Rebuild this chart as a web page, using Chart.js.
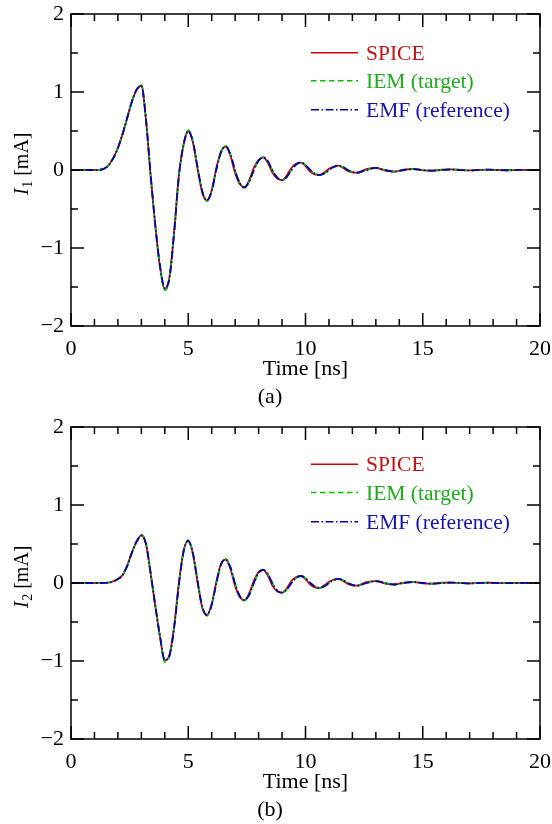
<!DOCTYPE html>
<html>
<head>
<meta charset="utf-8">
<script src="https://cdn.jsdelivr.net/npm/chart.js@4.4.1/dist/chart.umd.min.js"></script>
<style>
html,body{margin:0;padding:0;background:#fff;}
canvas{display:block;}
</style>
</head>
<body>
<canvas id="c1" width="552" height="412"></canvas>
<canvas id="c2" width="552" height="412"></canvas>
<script>
// ---------- data ----------
const time = [0,0.2,0.4,0.6,0.8,1.0,1.2,1.4,1.6,1.8,2.0,2.2,2.4,2.6,2.8,3.0,3.2,3.4,3.6,3.8,
  4.0,4.2,4.4,4.6,4.8,5.0,5.2,5.4,5.6,5.8,6.0,6.2,6.4,6.6,6.8,7.0,7.2,7.4,7.6,7.8,
  8.0,8.2,8.4,8.6,8.8,9.0,9.2,9.4,9.6,9.8,10.0,10.2,10.4,10.6,10.8,11.0,11.2,11.4,11.6,11.8,
  12.0,12.2,12.6,13.0,13.4,13.8,14.2,14.6,15.0,15.4,15.8,16.2,16.6,17.0,17.4,17.8,18.2,18.6,19.0,19.4,19.8,20.0];

// panel (a): I1 [mA]
const i1Spice = [0,0,0,0,0,0,0.002,0.016,0.062,0.152,0.283,0.463,0.672,0.882,1.03,1.08,0.63,-0.09,-0.73,-1.25,
  -1.52,-1.37,-0.78,-0.07,0.33,0.50,0.35,0.01,-0.29,-0.39,-0.26,0.03,0.24,0.30,0.18,-0.04,-0.18,-0.22,-0.13,0.03,
  0.13,0.16,0.09,-0.04,-0.11,-0.13,-0.07,0.025,0.08,0.094,0.05,-0.02,-0.055,-0.064,-0.03,0.015,0.045,0.055,0.028,-0.012,
  -0.03,-0.035,0.01,0.026,-0.008,-0.02,0.006,0.013,-0.004,-0.009,0.003,0.007,0,-0.005,0,0.004,0,-0.003,0,0.002,0,0];
const i1Iem = [0,0,0,0,0,0,0.002,0.015,0.06,0.15,0.28,0.46,0.67,0.88,1.035,1.09,0.65,-0.08,-0.73,-1.26,
  -1.54,-1.39,-0.80,-0.08,0.32,0.51,0.37,0.03,-0.28,-0.40,-0.27,0.01,0.23,0.31,0.20,-0.01,-0.17,-0.23,-0.15,0.0,
  0.12,0.165,0.11,-0.01,-0.10,-0.135,-0.09,0.0,0.07,0.096,0.065,0.0,-0.045,-0.066,-0.045,0.0,0.038,0.056,0.038,0.0,
  -0.025,-0.036,0.0,0.027,0.0,-0.02,0.0,0.013,0.0,-0.009,0.0,0.007,0,-0.005,0,0.004,0,-0.003,0,0.002,0,0];
const i1Emf = [0,0,0,0,0,0,0.002,0.015,0.06,0.15,0.28,0.46,0.67,0.88,1.03,1.08,0.64,-0.08,-0.72,-1.24,
  -1.52,-1.38,-0.80,-0.08,0.32,0.50,0.36,0.03,-0.28,-0.39,-0.27,0.01,0.23,0.30,0.20,-0.01,-0.17,-0.22,-0.15,0.0,
  0.12,0.16,0.11,-0.01,-0.10,-0.13,-0.09,0.0,0.07,0.094,0.065,0.0,-0.045,-0.064,-0.045,0.0,0.038,0.055,0.038,0.0,
  -0.025,-0.035,0.0,0.026,0.0,-0.02,0.0,0.013,0.0,-0.009,0.0,0.007,0,-0.005,0,0.004,0,-0.003,0,0.002,0,0];

// panel (b): I2 [mA]
const i2Spice = [0,0,0,0,0,0,0,0.001,0.005,0.021,0.052,0.103,0.225,0.395,0.535,0.61,0.49,0.11,-0.31,-0.70,
  -0.99,-0.92,-0.55,0.0,0.41,0.54,0.37,0.0,-0.32,-0.41,-0.27,0.02,0.25,0.30,0.18,-0.04,-0.18,-0.22,-0.13,0.03,
  0.14,0.167,0.09,-0.04,-0.11,-0.124,-0.07,0.025,0.075,0.09,0.05,-0.02,-0.055,-0.062,-0.03,0.015,0.043,0.052,0.027,-0.012,
  -0.03,-0.034,0.01,0.025,-0.008,-0.019,0.006,0.013,-0.004,-0.009,0.003,0.006,0,-0.004,0,0.003,0,-0.002,0,0.001,0,0];
const i2Iem = [0,0,0,0,0,0,0,0.001,0.005,0.02,0.05,0.10,0.22,0.39,0.53,0.62,0.51,0.12,-0.30,-0.70,
  -1.01,-0.94,-0.57,-0.02,0.40,0.55,0.38,0.02,-0.31,-0.42,-0.28,0.0,0.24,0.31,0.20,-0.01,-0.17,-0.225,-0.15,0.0,
  0.13,0.17,0.11,-0.01,-0.10,-0.127,-0.085,0.0,0.065,0.092,0.062,0.0,-0.045,-0.064,-0.043,0.0,0.036,0.053,0.036,0.0,
  -0.024,-0.035,0.0,0.025,0.0,-0.019,0.0,0.013,0.0,-0.009,0.0,0.006,0,-0.004,0,0.003,0,-0.002,0,0.001,0,0];
const i2Emf = [0,0,0,0,0,0,0,0.001,0.005,0.02,0.05,0.10,0.22,0.39,0.53,0.61,0.50,0.12,-0.30,-0.69,
  -0.99,-0.93,-0.57,-0.02,0.40,0.54,0.38,0.02,-0.31,-0.41,-0.28,0.0,0.24,0.30,0.20,-0.01,-0.17,-0.22,-0.15,0.0,
  0.13,0.167,0.11,-0.01,-0.10,-0.124,-0.085,0.0,0.065,0.09,0.062,0.0,-0.045,-0.062,-0.043,0.0,0.036,0.052,0.036,0.0,
  -0.024,-0.034,0.0,0.025,0.0,-0.019,0.0,0.013,0.0,-0.009,0.0,0.006,0,-0.004,0,0.003,0,-0.002,0,0.001,0,0];

const seriesNames = ['SPICE', 'IEM (target)', 'EMF (reference)'];
const xTicks = [0, 5, 10, 15, 20];
const yTicks = [-2, -1, 0, 1, 2];

// ---------- styles ----------
const FONT = '"Liberation Serif", "DejaVu Serif", "Times New Roman", serif';
const lineColors = ['rgb(210,0,0)', 'rgb(0,190,0)', 'rgb(0,0,170)'];
const textColors = ['rgb(190,20,20)', 'rgb(30,170,30)', 'rgb(20,20,175)'];
const dashes = [[], [5.5, 3.5], [8, 2.5, 1.5, 2.5]];

Chart.defaults.font.family = FONT;
Chart.defaults.color = '#000';

function pts(ys) { return time.map((t, i) => ({x: t, y: ys[i]})); }

const framePlugin = {
  id: 'frame',
  afterDatasetsDraw(chart, args, opts) {
    const ctx = chart.ctx;
    const {left, right, top, bottom} = chart.chartArea;
    const xs = chart.scales.x, ys = chart.scales.y;
    ctx.save();
    ctx.strokeStyle = '#000';
    ctx.lineWidth = 1.5;
    ctx.strokeRect(left, top, right - left, bottom - top);
    ctx.beginPath();
    for (let v = 0; v <= 20; v++) {
      const px = xs.getPixelForValue(v);
      const L = (v % 5 === 0) ? 13 : 7;
      ctx.moveTo(px, bottom); ctx.lineTo(px, bottom - L);
      ctx.moveTo(px, top); ctx.lineTo(px, top + L);
    }
    for (let k = -4; k <= 4; k++) {
      const py = ys.getPixelForValue(k / 2);
      const L = (k % 2 === 0) ? 13 : 7;
      ctx.moveTo(left, py); ctx.lineTo(left + L, py);
      ctx.moveTo(right, py); ctx.lineTo(right - L, py);
    }
    ctx.stroke();

    // legend
    const lineY = opts.legendY;
    for (let i = 0; i < 3; i++) {
      ctx.beginPath();
      ctx.strokeStyle = lineColors[i];
      ctx.lineWidth = 1.5;
      ctx.setLineDash(dashes[i]);
      ctx.moveTo(311, lineY[i]);
      ctx.lineTo(358, lineY[i]);
      ctx.stroke();
      ctx.setLineDash([]);
      ctx.fillStyle = textColors[i];
      ctx.font = '21.5px ' + FONT;
      ctx.textAlign = 'left';
      ctx.textBaseline = 'alphabetic';
      ctx.fillText(seriesNames[i], 366, lineY[i] + 7);
    }

    // y axis title: I_n [mA]
    ctx.fillStyle = '#000';
    ctx.translate(28, opts.titleY);
    ctx.rotate(-Math.PI / 2);
    ctx.textAlign = 'left';
    ctx.textBaseline = 'alphabetic';
    ctx.font = 'italic 20px ' + FONT;
    ctx.fillText('I', 0, 0);
    let w = ctx.measureText('I').width + 0.5;
    ctx.font = '14px ' + FONT;
    ctx.fillText(opts.sub, w, 3.5);
    w += ctx.measureText(opts.sub).width;
    ctx.font = '20px ' + FONT;
    ctx.fillText(' [mA]', w, 0);
    ctx.restore();
  }
};

function makeChart(id, data, caption, sub, padTop, padBottom, legendY, titleY) {
  const totalH = 412;
  const capH = 22 * 1.2;
  const xH = totalH - padTop - 312 - capH - padBottom;
  return new Chart(document.getElementById(id), {
    type: 'line',
    data: {
      datasets: [0, 1, 2].map(i => ({
        label: seriesNames[i],
        data: pts(data[i]),
        borderColor: lineColors[i],
        borderWidth: 1.8,
        borderDash: dashes[i],
        pointRadius: 0,
        fill: false,
        cubicInterpolationMode: 'monotone',
        order: 3 - i
      }))
    },
    options: {
      responsive: false,
      animation: false,
      events: [],
      layout: { padding: { top: padTop, right: 12, left: 0, bottom: padBottom } },
      plugins: {
        legend: { display: false },
        tooltip: { enabled: false },
        title: {
          display: true,
          position: 'bottom',
          text: caption,
          color: '#000',
          font: { size: 22, weight: 'normal', family: FONT, lineHeight: 1.2 },
          padding: { top: 0, bottom: 0 }
        },
        frame: { legendY: legendY, titleY: titleY, sub: sub }
      },
      scales: {
        x: {
          type: 'linear',
          min: 0, max: 20,
          afterBuildTicks(s) { s.ticks = xTicks.map(v => ({value: v})); },
          afterFit(s) { s.height = xH; s.paddingLeft = 0; s.paddingRight = 0; },
          grid: { display: false, drawTicks: false },
          border: { display: false },
          ticks: { padding: 10, font: { size: 22, family: FONT }, color: '#000', maxRotation: 0 },
          title: {
            display: true, text: 'Time [ns]', color: '#000',
            font: { size: 22, family: FONT, lineHeight: 1.2 },
            padding: { top: 0, bottom: 1 }
          }
        },
        y: {
          type: 'linear',
          min: -2, max: 2,
          afterBuildTicks(s) { s.ticks = yTicks.map(v => ({value: v})); },
          afterFit(s) { s.width = 71; s.paddingTop = 0; s.paddingBottom = 0; },
          grid: { display: false, drawTicks: false },
          border: { display: false },
          ticks: {
            padding: 7, font: { size: 22, family: FONT }, color: '#000',
            callback: v => (v < 0 ? '\u2212' + (-v) : String(v))
          }
        }
      }
    },
    plugins: [framePlugin]
  });
}

makeChart('c1', [i1Spice, i1Iem, i1Emf], '(a)', '1', 14, 1.8, [52.7, 80.8, 109.8], 195);
makeChart('c2', [i2Spice, i2Iem, i2Emf], '(b)', '2', 15, 0.8, [52.3, 80.5, 109.7], 196);
</script>
</body>
</html>
